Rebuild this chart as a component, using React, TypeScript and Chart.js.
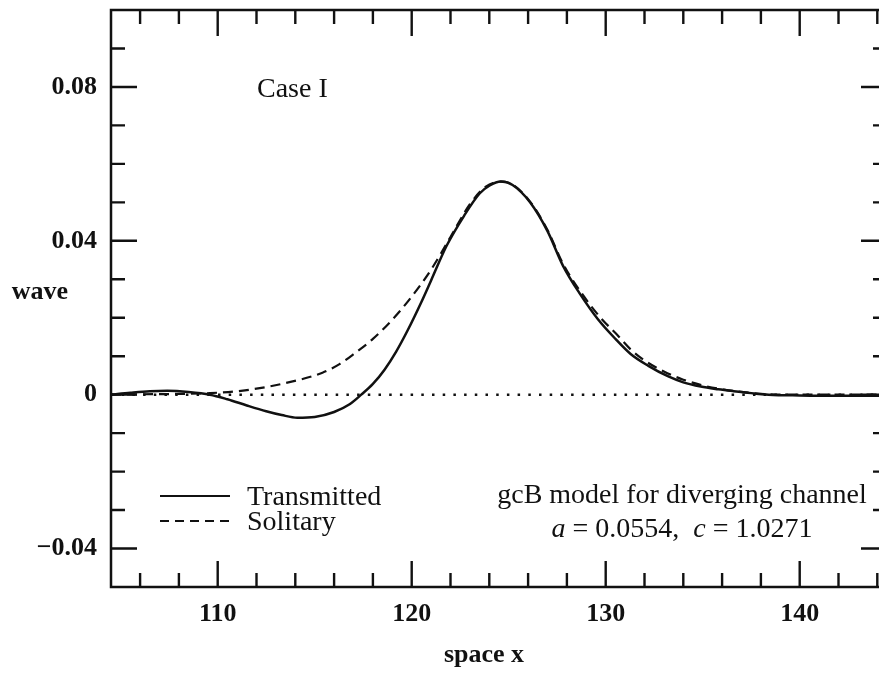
import React, { useEffect, useRef } from "react";
import { Chart, registerables } from "chart.js";

Chart.register(...registerables);

// ---- data ----
const transmittedX = [104.5, 105.5, 106.5, 107.4, 108.5, 109.6, 110.5, 111.5, 112.5, 113.3, 114.1, 115.0, 116.0, 116.8, 117.4, 118.0, 118.6, 119.2, 119.8, 120.5, 121.0, 121.8, 122.7, 123.5, 124.0, 124.6, 125.2, 126.1, 127.0, 127.8, 128.7, 129.6, 130.5, 131.3, 132.2, 133.2, 134.0, 134.9, 135.8, 136.6, 137.5, 138.4, 140.0, 142.0, 144.5];
const transmittedY = [0, 0.0005, 0.0009, 0.001, 0.0007, 0, -0.0012, -0.0028, -0.0043, -0.0053, -0.006, -0.0058, -0.0045, -0.0025, 0, 0.0028, 0.0065, 0.0112, 0.0168, 0.0241, 0.0297, 0.0387, 0.0465, 0.0523, 0.0543, 0.0554, 0.0545, 0.05, 0.0425, 0.0335, 0.026, 0.0196, 0.0145, 0.0105, 0.0075, 0.0048, 0.0032, 0.0021, 0.0014, 0.0009, 0.0004, 0, -0.0002, -0.0003, -0.0003];

const solitaryX = [104.5, 106.0, 108.0, 109.6, 111.2, 113.3, 115.4, 116.3, 117.1, 118.0, 119.0, 120.0, 121.0, 122.0, 123.0, 123.8, 124.6, 125.2, 126.1, 127.0, 127.8, 128.7, 129.7, 130.6, 131.3, 132.0, 133.0, 134.0, 135.0, 136.1, 137.2, 138.4, 140.0, 144.5];
const solitaryY = [0, 0.0001, 0.0002, 0.0004, 0.001, 0.0028, 0.0057, 0.008, 0.0109, 0.0145, 0.0195, 0.0255, 0.0325, 0.041, 0.0495, 0.054, 0.0554, 0.0546, 0.0502, 0.0428, 0.034, 0.0268, 0.0202, 0.0155, 0.0117, 0.0089, 0.006, 0.0039, 0.0024, 0.0013, 0.0006, 0.0001, 0, 0];

const zeroX = [104.5, 144.5];
const zeroY = [0, 0];

const xMajorTicks = [110, 120, 130, 140];
const xMinorTicks = [106, 108, 112, 114, 116, 118, 122, 124, 126, 128, 132, 134, 136, 138, 142, 144];
const yMajorTicks = [-0.04, 0, 0.04, 0.08];
const yMinorTicks = [-0.03, -0.02, -0.01, 0.01, 0.02, 0.03, 0.05, 0.06, 0.07, 0.09];

const seriesNames = ["Transmitted", "Solitary"];
const caseLabel = "Case I";
const modelLabel = "gcB model for diverging channel";
const paramA = "0.0554";
const paramC = "1.0271";
const xTitle = "space x";
const yTitle = "wave";

const INK = "#111";
const SERIF = "'Liberation Serif', 'Times New Roman', serif";

const toPts = (xs: number[], ys: number[]) => xs.map((x, i) => ({ x, y: ys[i] }));

const decorPlugin = {
  id: "decor",
  afterDatasetsDraw(chart: any) {
    const { ctx, chartArea } = chart;
    const xs = chart.scales.x;
    const ys = chart.scales.y;
    const { left, right, top, bottom } = chartArea;
    ctx.save();
    ctx.strokeStyle = INK;
    ctx.fillStyle = INK;
    ctx.lineCap = "butt";

    // frame
    ctx.lineWidth = 2.5;
    ctx.strokeRect(left, top, right - left, bottom - top);

    // ticks
    const major = 26;
    const minor = 14;
    ctx.lineWidth = 2.4;
    const vt = (v: number, len: number) => {
      const px = xs.getPixelForValue(v);
      ctx.beginPath();
      ctx.moveTo(px, top);
      ctx.lineTo(px, top + len);
      ctx.moveTo(px, bottom);
      ctx.lineTo(px, bottom - len);
      ctx.stroke();
    };
    const ht = (v: number, len: number) => {
      const py = ys.getPixelForValue(v);
      ctx.beginPath();
      ctx.moveTo(left, py);
      ctx.lineTo(left + len, py);
      ctx.moveTo(right, py);
      ctx.lineTo(right - len, py);
      ctx.stroke();
    };
    xMajorTicks.forEach((v) => vt(v, major));
    xMinorTicks.forEach((v) => vt(v, minor));
    yMajorTicks.forEach((v) => ht(v, major));
    yMinorTicks.forEach((v) => ht(v, minor));

    // titles
    ctx.textBaseline = "alphabetic";
    ctx.font = `bold 26px ${SERIF}`;
    ctx.textAlign = "center";
    ctx.fillText(yTitle, 40, 299);
    ctx.fillText(xTitle, 484, 662);

    // case label
    ctx.font = `28px ${SERIF}`;
    ctx.textAlign = "left";
    ctx.fillText(caseLabel, 257, 97);

    // legend
    const ds = chart.data.datasets;
    const legY = [496, 521];
    const textY = [505, 530];
    for (let i = 0; i < 2; i++) {
      ctx.save();
      ctx.strokeStyle = ds[i].borderColor;
      ctx.lineWidth = 2.2;
      ctx.setLineDash(i === 1 ? [9, 6] : []);
      ctx.beginPath();
      ctx.moveTo(160, legY[i]);
      ctx.lineTo(230, legY[i]);
      ctx.stroke();
      ctx.restore();
      ctx.font = `28px ${SERIF}`;
      ctx.textAlign = "left";
      ctx.fillText(seriesNames[i], 247, textY[i]);
    }

    // model annotation
    ctx.font = `28px ${SERIF}`;
    ctx.textAlign = "center";
    ctx.fillText(modelLabel, 682, 503);

    const parts: [string, boolean][] = [
      ["a", true],
      [" = " + paramA + ",  ", false],
      ["c", true],
      [" = " + paramC, false],
    ];
    const fontFor = (it: boolean) => (it ? `italic 28px ${SERIF}` : `28px ${SERIF}`);
    let total = 0;
    const widths = parts.map(([t, it]) => {
      ctx.font = fontFor(it);
      const w = ctx.measureText(t).width;
      total += w;
      return w;
    });
    let cx = 682 - total / 2;
    ctx.textAlign = "left";
    parts.forEach(([t, it], i) => {
      ctx.font = fontFor(it);
      ctx.fillText(t, cx, 537);
      cx += widths[i];
    });
    ctx.restore();
  },
};

export default function App() {
  const ref = useRef<HTMLCanvasElement | null>(null);

  useEffect(() => {
    if (!ref.current) return;
    Chart.defaults.font.family = SERIF;
    Chart.defaults.color = INK;
    const chart = new Chart(ref.current, {
      type: "line",
      data: {
        datasets: [
          {
            label: seriesNames[0],
            data: toPts(transmittedX, transmittedY),
            borderColor: INK,
            borderWidth: 2.5,
            pointRadius: 0,
            cubicInterpolationMode: "monotone",
            fill: false,
          },
          {
            label: seriesNames[1],
            data: toPts(solitaryX, solitaryY),
            borderColor: INK,
            borderWidth: 2.2,
            borderDash: [10, 6],
            pointRadius: 0,
            cubicInterpolationMode: "monotone",
            fill: false,
          },
          {
            label: "zero",
            data: toPts(zeroX, zeroY),
            borderColor: INK,
            borderWidth: 2.5,
            borderDash: [2.5, 8.2],
            pointRadius: 0,
            fill: false,
          },
        ],
      },
      options: {
        responsive: false,
        animation: false,
        devicePixelRatio: 1,
        layout: { padding: { left: 0, top: 10, right: 5, bottom: 0 } },
        plugins: { legend: { display: false }, tooltip: { enabled: false } },
        scales: {
          x: {
            type: "linear",
            min: 104.5,
            max: 144.5,
            grid: { display: false, drawTicks: false },
            border: { display: false },
            afterBuildTicks: (s: any) => {
              s.ticks = xMajorTicks.map((v) => ({ value: v }));
            },
            afterFit: (s: any) => {
              s.height = 86;
              s.paddingLeft = 0;
              s.paddingRight = 0;
              s.paddingTop = 0;
              s.paddingBottom = 0;
            },
            ticks: {
              padding: 12,
              maxRotation: 0,
              autoSkip: false,
              color: INK,
              font: { size: 26, weight: "bold", family: SERIF },
              callback: (v: any) => String(v),
            },
          },
          y: {
            type: "linear",
            min: -0.05,
            max: 0.1,
            grid: { display: false, drawTicks: false },
            border: { display: false },
            afterBuildTicks: (s: any) => {
              s.ticks = yMajorTicks.map((v) => ({ value: v }));
            },
            afterFit: (s: any) => {
              s.width = 111;
              s.paddingLeft = 0;
              s.paddingRight = 0;
              s.paddingTop = 0;
              s.paddingBottom = 0;
            },
            ticks: {
              padding: 14,
              autoSkip: false,
              color: INK,
              font: { size: 26, weight: "bold", family: SERIF },
              callback: (v: any) => {
                const n = Number(v);
                if (Math.abs(n) < 1e-9) return "0";
                return (n < 0 ? "\u2212" : "") + Math.abs(n).toFixed(2);
              },
            },
          },
        },
      },
      plugins: [decorPlugin],
    } as any);
    return () => chart.destroy();
  }, []);

  return (
    <div
      style={{
        position: "fixed",
        left: 0,
        top: 0,
        width: 879,
        height: 673,
        overflow: "hidden",
        background: "#fff",
      }}
    >
      <canvas ref={ref} width={892} height={673} style={{ width: 892, height: 673, display: "block" }} />
    </div>
  );
}
